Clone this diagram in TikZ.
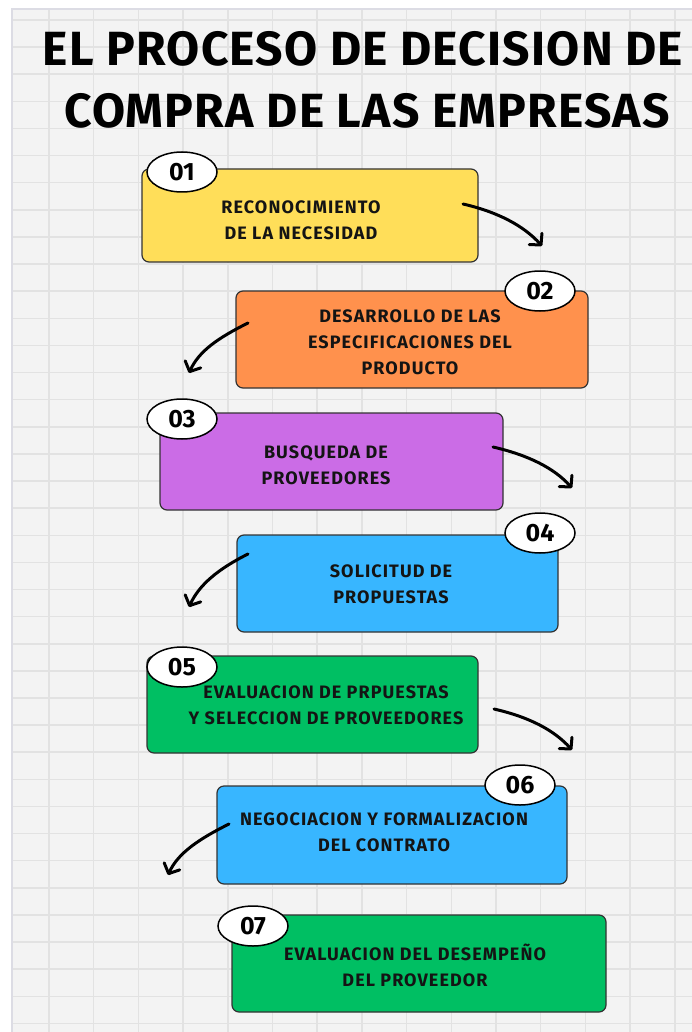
\documentclass[tikz,border=0pt]{standalone}
\usepackage{fontspec}
\setmainfont{Fira Sans}
\usetikzlibrary{arrows.meta,shapes.geometric}

\definecolor{paper}{HTML}{F3F3F3}
\definecolor{gridline}{HTML}{E2E2E2}
\definecolor{paperedge}{HTML}{DCDCE4}
\definecolor{inkdark}{HTML}{141414}
\definecolor{boxyellow}{HTML}{FFDE59}
\definecolor{boxorange}{HTML}{FF914D}
\definecolor{boxpurple}{HTML}{CB6CE6}
\definecolor{boxblue}{HTML}{38B6FF}
\definecolor{boxgreen}{HTML}{00BF63}

\tikzset{
  stepbox/.style={draw=black!80, line width=1.2pt, rounded corners=7pt, inner sep=0pt},
  badge/.style={ellipse, draw=black, line width=1.5pt, fill=white, minimum width=70pt,
    minimum height=40pt, inner sep=0pt, text=black, font=\bfseries\fontsize{25}{25}\selectfont},
  boxtext/.style={align=center, text=inkdark,
    font=\bfseries\fontsize{18}{26}\selectfont\addfontfeatures{LetterSpace=6}},
  titletext/.style={anchor=base, text=black,
    font=\bfseries\fontsize{48}{48}\selectfont\addfontfeatures{LetterSpace=2.5}},
  curvy/.style={line width=3pt, line cap=round,
    -{Straight Barb[length=8pt,width=17pt,line cap=round,line join=round]}}
}

\begin{document}
\begin{tikzpicture}[x=1pt, y=-1pt]

\def\gridx{44.7} % Column width of the paper grid
\def\gridy{27.12} % Row height of the paper grid

\useasboundingbox (0,0) rectangle (692,1032);
\fill[white] (0,0) rectangle (692,1032);

    % Draw the paper and its grid
    \fill[paper] (12,9) rectangle (692,1032);
    \foreach \k in {0,...,14} {
        \draw[gridline, line width=1.5pt] ({49+\k*\gridx},9) -- ({49+\k*\gridx},1032); % Vertical lines
    }
    \foreach \k in {0,...,37} {
        \draw[gridline, line width=1.5pt] (12,{20+\k*\gridy}) -- (692,{20+\k*\gridy}); % Horizontal lines
    }
    \draw[paperedge, line width=1.5pt] (12,1032) -- (12,9) -- (692,9);

    % Title
    \node[titletext] (title1) at (363,66) {EL PROCESO DE DECISION DE};
    \node[titletext] (title2) at (367,128) {COMPRA DE LAS EMPRESAS};

    % The coloured step boxes
    \foreach \k/\x/\y/\w/\h/\col in {1/310/215.5/336/93/boxyellow, 2/412/339.5/352/97/boxorange,
        3/331.5/461.5/343/97/boxpurple, 4/397.5/583.5/321/97/boxblue,
        5/312.5/704.5/331/97/boxgreen, 6/392/835/350/98/boxblue, 7/419/963.5/374/97/boxgreen} {
        \node[stepbox, fill=\col, minimum width=\w pt, minimum height=\h pt] (box\k) at (\x,\y) {};
    }

    % Text of each step
    \foreach \k/\x/\y/\txt in {1/301/220/{RECONOCIMIENTO\\DE LA NECESIDAD},
        2/410/342/{DESARROLLO DE LAS\\ESPECIFICACIONES DEL\\PRODUCTO},
        3/326/465/{BUSQUEDA DE\\PROVEEDORES},
        4/391/584.5/{SOLICITUD DE\\PROPUESTAS},
        5/326/705.5/{EVALUACION DE PRPUESTAS\\Y SELECCION DE PROVEEDORES},
        6/384/832/{NEGOCIACION Y FORMALIZACION\\DEL CONTRATO},
        7/415/965/{EVALUACION DEL DESEMPEÑO\\DEL PROVEEDOR}} {
        \node[boxtext] (text\k) at (\x,\y) {\txt};
    }

    % Number badges
    \foreach \k/\x/\y in {1/182/172, 2/540/291, 3/182/419, 4/540/533, 5/182/667, 6/520/785, 7/253/926} {
        \node[badge] (badge\k) at (\x,\y) {0\k};
    }

    % Curved arrows between the steps
    \foreach \k/\xa/\ya/\xb/\yb in {1/463/204/542/246, 3/493/447/572/488, 5/494/709/572/750} {
        \coordinate (from\k) at (\xa,\ya);
        \coordinate (to\k) at (\xb,\yb);
        \draw[curvy] (from\k) .. controls +(35,8) and +(-18,-20) .. (to\k);
    }
    \foreach \k/\xa/\ya/\xb/\yb in {2/248/323/189/373, 4/248/554/189/607, 6/229/824/168/875} {
        \coordinate (from\k) at (\xa,\ya);
        \coordinate (to\k) at (\xb,\yb);
        \draw[curvy] (from\k) .. controls +(-30,15) and +(10,-22) .. (to\k);
    }

\end{tikzpicture}
\end{document}
